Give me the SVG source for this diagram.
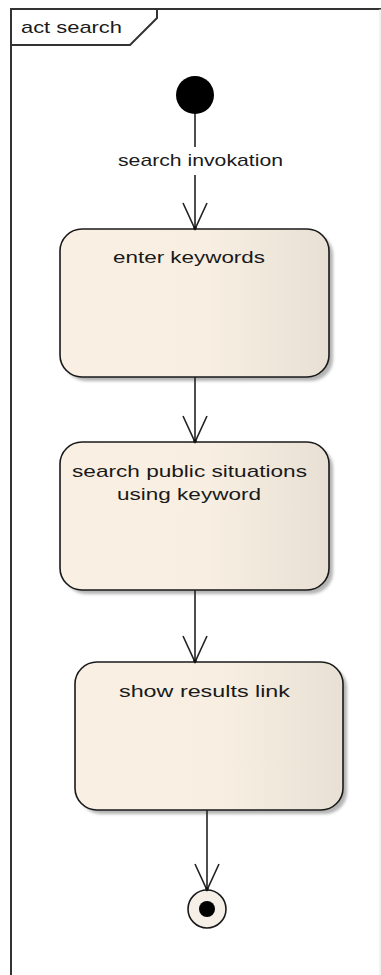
<svg xmlns="http://www.w3.org/2000/svg" width="381" height="975" viewBox="0 0 381 975">
  <defs>
    <linearGradient id="actionFill" x1="0" y1="0" x2="1" y2="0">
      <stop offset="0" stop-color="#f9f0e3"/>
      <stop offset="0.55" stop-color="#f8efe2"/>
      <stop offset="1" stop-color="#e9e0d5"/>
    </linearGradient>
    <filter id="shadowBlur" x="-10%" y="-10%" width="120%" height="120%">
      <feGaussianBlur stdDeviation="1.5"/>
    </filter>
    <marker id="openArrow" viewBox="-28 -13 30 26" refX="0" refY="0" markerWidth="30" markerHeight="26" markerUnits="userSpaceOnUse" orient="auto">
      <path d="M -26 -12 L 0 0 L -26 12" fill="none" stroke="#222" stroke-width="1.6"/>
      <circle cx="-1" cy="0" r="1.8" fill="#111"/>
    </marker>
    <style>
      .frame { fill: none; stroke: #333; stroke-width: 2; }
      .action { fill: url(#actionFill); stroke: #1a1a1a; stroke-width: 1.6; }
      .shadow { fill: #b4b4b4; filter: url(#shadowBlur); }
      .edge { fill: none; stroke: #222; stroke-width: 1.6; }
      .label { font-family: "Liberation Sans", Arial, sans-serif; font-size: 17px; fill: #1a1a1a; }
    </style>
  </defs>

  <rect width="381" height="975" fill="#ffffff"/>

  <!-- activity frame with name tab -->
  <g id="frame">
    <path class="frame" d="M 11 975 L 11 9 L 381 9"/>
    <path class="frame" d="M 11 45 L 130 45 L 157 18 L 157 9"/>
    <line x1="380" y1="9" x2="380" y2="975" stroke="#e6e6e6" stroke-width="1"/>
    <text class="label" x="21" y="33" textLength="101" lengthAdjust="spacingAndGlyphs">act search</text>
  </g>

  <!-- initial node -->
  <g id="start">
    <circle cx="195" cy="95" r="19" fill="#000"/>
  </g>

  <!-- actions -->
  <g id="enterKeywords">
    <rect class="shadow" x="64" y="233" width="269" height="148" rx="22"/>
    <rect class="action" x="60" y="229" width="269" height="148" rx="22"/>
    <text class="label" x="113" y="263" textLength="152" lengthAdjust="spacingAndGlyphs">enter keywords</text>
  </g>

  <g id="searchPublic">
    <rect class="shadow" x="64" y="446" width="269" height="148" rx="22"/>
    <rect class="action" x="60" y="442" width="269" height="148" rx="22"/>
    <text class="label" x="72" y="477" textLength="235" lengthAdjust="spacingAndGlyphs">search public situations</text>
    <text class="label" x="117" y="500" textLength="144" lengthAdjust="spacingAndGlyphs">using keyword</text>
  </g>

  <g id="showResults">
    <rect class="shadow" x="79" y="666" width="268" height="148" rx="22"/>
    <rect class="action" x="75" y="662" width="268" height="148" rx="22"/>
    <text class="label" x="119" y="697" textLength="171" lengthAdjust="spacingAndGlyphs">show results link</text>
  </g>

  <!-- final node -->
  <g id="end">
    <circle cx="207" cy="909" r="19" fill="#f6efe8" stroke="#1a1a1a" stroke-width="1.6"/>
    <circle cx="207" cy="909" r="8" fill="#000"/>
  </g>

  <!-- control flows -->
  <g id="connectors">
    <line class="edge" x1="195" y1="114" x2="195" y2="147"/>
    <text class="label" x="118" y="166" textLength="165" lengthAdjust="spacingAndGlyphs">search invokation</text>
    <line class="edge" x1="195" y1="175" x2="195" y2="229" marker-end="url(#openArrow)"/>
    <line class="edge" x1="195" y1="377" x2="195" y2="442" marker-end="url(#openArrow)"/>
    <line class="edge" x1="195" y1="590" x2="195" y2="662" marker-end="url(#openArrow)"/>
    <line class="edge" x1="207" y1="810" x2="207" y2="890" marker-end="url(#openArrow)"/>
  </g>
</svg>
